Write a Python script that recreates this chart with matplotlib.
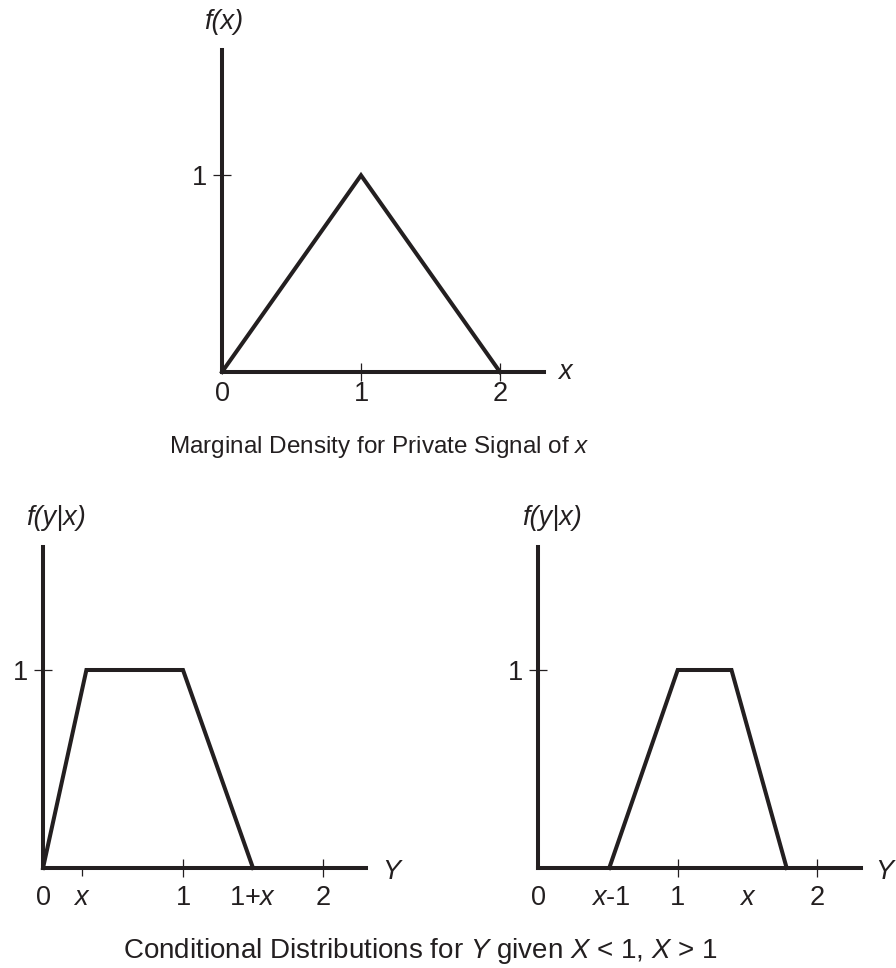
import numpy as np
import matplotlib
matplotlib.use("Agg")
import matplotlib.pyplot as plt
import matplotlib.lines as mlines

plt.rcParams['font.family'] = ['Liberation Sans', 'DejaVu Sans']
plt.rcParams['mathtext.fontset'] = 'custom'
plt.rcParams['mathtext.rm'] = 'Liberation Sans'
plt.rcParams['mathtext.it'] = 'Liberation Sans:italic'

# marginal density of x (triangle)
marg_x = [0, 1, 2]
marg_f = [0, 1, 0]
marg_ticks = [0, 1, 2]
marg_labels = ['0', '1', '2']

# conditional density, X < 1
low_y = [0, 0.31, 1.0, 1.5]
low_f = [0, 1, 1, 0]
low_ticks = [0, 0.28, 1, 1.5, 2]
low_labels = ['0', '$x$', '1', '1+$x$', '2']

# conditional density, X > 1
high_y = [0.51, 1.0, 1.385, 1.78]
high_f = [0, 1, 1, 0]
high_ticks = [0, 0.52, 1, 1.5, 2]
high_labels = ['0', '$x$-1', '1', '$x$', '2']

W, H = 896, 968
fig = plt.figure(figsize=(W / 100, H / 100), dpi=100)
FS = 19.5
INK = '#231f20'
LW = 2.9


def px_axes(left, top, right, bottom):
    return fig.add_axes([left / W, (H - bottom) / H, (right - left) / W, (bottom - top) / H])


def style(ax, xmax, ymax, ticks, labels, hide, xpad):
    ax.set_xlim(0, xmax)
    ax.set_ylim(0, ymax)
    for s in ['top', 'right']:
        ax.spines[s].set_visible(False)
    for s in ['left', 'bottom']:
        ax.spines[s].set_linewidth(LW)
        ax.spines[s].set_color(INK)
    ax.set_xticks(ticks)
    ax.set_xticklabels(labels)
    ax.set_yticks([1])
    ax.set_yticklabels(['1'])
    ax.tick_params(axis='both', direction='inout', length=13, width=0.9,
                   color=INK, labelsize=FS, labelcolor=INK)
    ax.tick_params(axis='x', pad=xpad)
    ax.tick_params(axis='y', pad=4)
    for i, t in enumerate(ax.xaxis.get_major_ticks()):
        if i in hide:
            t.tick1line.set_visible(False)


# top panel
ax1 = px_axes(222, 50, 544, 372)
ax1.plot(marg_x, marg_f, color=INK, lw=LW, clip_on=False, solid_joinstyle='miter')
style(ax1, 322 / 139, 322 / 196.7, marg_ticks, marg_labels, [0], 0)
ax1.text(2.47, 0, 'x', fontsize=FS, style='italic', ha='center', va='center', color=INK)
ax1.text(0.01, 1.78, 'f(x)', fontsize=FS, style='italic', ha='center', va='center', color=INK)
fig.text(379 / W, (H - 453) / H, 'Marginal Density for Private Signal of $x$',
         fontsize=17.5, ha='center', va='baseline', color=INK)

# bottom left
ax2 = px_axes(43, 547, 366, 868)
ax2.plot(low_y, low_f, color=INK, lw=LW, clip_on=False, solid_joinstyle='miter')
style(ax2, 323 / 140, 321 / 198, low_ticks, low_labels, [0, 3], 6)
xt = ax2.xaxis.get_major_ticks()[1]
xt.tick1line.set_marker(mlines.TICKDOWN)
xt.tick1line.set_markersize(6)
ax2.text(2.49, -0.02, 'Y', fontsize=FS, style='italic', ha='center', va='center', color=INK)
ax2.text(0.09, 1.77, 'f(y|x)', fontsize=FS, style='italic', ha='center', va='center', color=INK)

# bottom right
ax3 = px_axes(538, 547, 861, 868)
ax3.plot(high_y, high_f, color=INK, lw=LW, clip_on=False, solid_joinstyle='miter')
style(ax3, 323 / 139.7, 321 / 198, high_ticks, high_labels, [0, 1, 3], 6)
ax3.text(2.48, -0.02, 'Y', fontsize=FS, style='italic', ha='center', va='center', color=INK)
ax3.text(0.10, 1.77, 'f(y|x)', fontsize=FS, style='italic', ha='center', va='center', color=INK)

fig.text(420 / W, (H - 958) / H, 'Conditional Distributions for $Y$ given $X$ < 1, $X$ > 1',
         fontsize=20, ha='center', va='baseline', color=INK)

fig.savefig('out.png', dpi=100)
